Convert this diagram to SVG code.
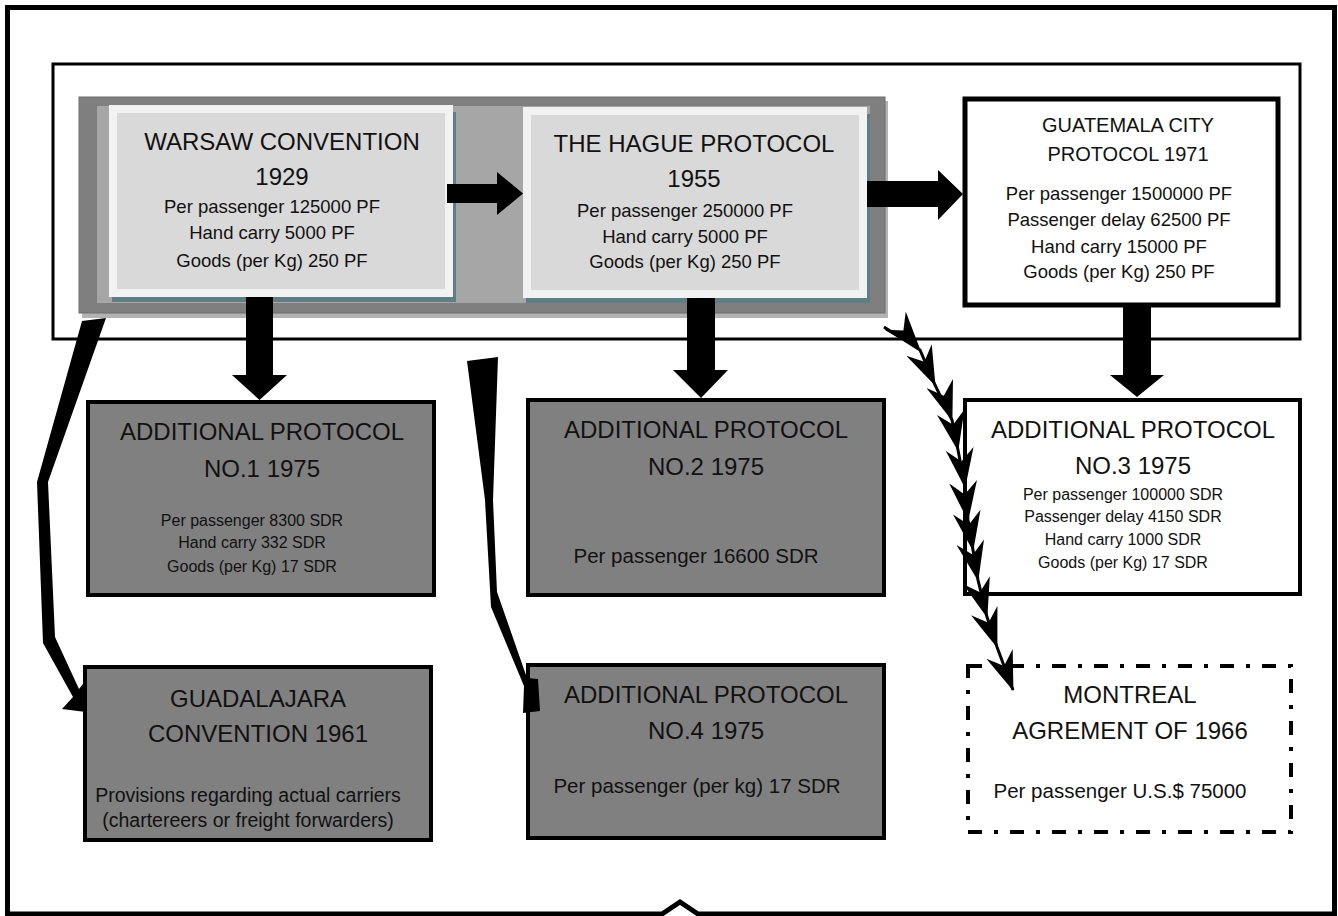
<svg xmlns="http://www.w3.org/2000/svg" width="1338" height="916" viewBox="0 0 1338 916">
<style>
text{font-family:"Liberation Sans",Arial,sans-serif;fill:#111;text-anchor:middle}
.t24{font-size:24px}
.t20{font-size:20px}
.d18{font-size:18.5px}
.d16{font-size:16px}
.d20{font-size:20.5px}
.d19{font-size:19.5px}
.gbox{fill:#808080;stroke:#000;stroke-width:4}
.wbox{fill:#fff;stroke:#000;stroke-width:4}
.lbox{fill:#d9d9d9;stroke:#f2f2f2;stroke-width:8}
.shadow{fill:#5e7d85}
.blk{fill:#000}
</style>
<defs>
<marker id="chev" viewBox="0 0 34 24" markerWidth="40" markerHeight="28" refX="33" refY="12" orient="auto" markerUnits="userSpaceOnUse">
<path d="M0,0 L34,12 L0,24 L11,12 Z" fill="#000"/>
</marker>
</defs>
<rect width="1338" height="916" fill="#fff"/>
<path d="M7.5,7.5 H1334.5 V914 H698 L680,902 L662,914 H7.5 Z" fill="none" stroke="#000" stroke-width="5"/>
<rect x="53" y="64" width="1247" height="275" fill="#fff" stroke="#000" stroke-width="3"/>

<g id="group-bg">
<rect x="82" y="101" width="806" height="217" fill="#b3b3b3"/>
<rect x="79" y="97" width="806" height="216" fill="#7f7f7f" stroke="#6f6f6f" stroke-width="1"/>
<rect x="97" y="106" width="773" height="197" fill="#a6a6a6"/>
</g>

<g id="warsaw">
<rect class="shadow" x="112" y="112" width="344" height="190"/>
<rect class="lbox" x="113" y="109" width="336" height="184"/>
<text class="t24" x="282" y="150">WARSAW CONVENTION</text>
<text class="t24" x="282" y="185">1929</text>
<text class="d18" x="272" y="213">Per passenger 125000 PF</text>
<text class="d18" x="272" y="239">Hand carry 5000 PF</text>
<text class="d18" x="272" y="267">Goods (per Kg) 250 PF</text>
</g>

<g id="hague">
<rect class="shadow" x="526" y="114" width="344" height="189"/>
<rect class="lbox" x="527" y="111" width="336" height="183"/>
<text class="t24" x="694" y="152">THE HAGUE PROTOCOL</text>
<text class="t24" x="694" y="187">1955</text>
<text class="d18" x="685" y="217">Per passenger 250000 PF</text>
<text class="d18" x="685" y="243">Hand carry 5000 PF</text>
<text class="d18" x="685" y="268">Goods (per Kg) 250 PF</text>
</g>

<g id="guatemala">
<rect x="965" y="99" width="313" height="206" fill="#fff" stroke="#000" stroke-width="5"/>
<text class="t20" x="1128" y="132">GUATEMALA CITY</text>
<text class="t20" x="1128" y="161">PROTOCOL 1971</text>
<text class="d18" x="1119" y="200">Per passenger 1500000 PF</text>
<text class="d18" x="1119" y="226">Passenger delay 62500 PF</text>
<text class="d18" x="1119" y="253">Hand carry 15000 PF</text>
<text class="d18" x="1119" y="278">Goods (per Kg) 250 PF</text>
</g>

<g id="ap1">
<rect class="gbox" x="88" y="402" width="346" height="193"/>
<text class="t24" x="262" y="440">ADDITIONAL PROTOCOL</text>
<text class="t24" x="262" y="477">NO.1 1975</text>
<text class="d16" x="252" y="526">Per passenger 8300 SDR</text>
<text class="d16" x="252" y="548">Hand carry 332 SDR</text>
<text class="d16" x="252" y="572">Goods (per Kg) 17 SDR</text>
</g>

<g id="ap2">
<rect class="gbox" x="528" y="400" width="356" height="195"/>
<text class="t24" x="706" y="438">ADDITIONAL PROTOCOL</text>
<text class="t24" x="706" y="475">NO.2 1975</text>
<text class="d20" x="696" y="563">Per passenger 16600 SDR</text>
</g>

<g id="ap3">
<rect class="wbox" x="965" y="400" width="335" height="194"/>
<text class="t24" x="1133" y="438">ADDITIONAL PROTOCOL</text>
<text class="t24" x="1133" y="474">NO.3 1975</text>
<text class="d16" x="1123" y="500">Per passenger 100000 SDR</text>
<text class="d16" x="1123" y="522">Passenger delay 4150 SDR</text>
<text class="d16" x="1123" y="545">Hand carry 1000 SDR</text>
<text class="d16" x="1123" y="568">Goods (per Kg) 17 SDR</text>
</g>

<g id="guadalajara">
<rect class="gbox" x="85" y="667" width="346" height="173"/>
<text class="t24" x="258" y="707">GUADALAJARA</text>
<text class="t24" x="258" y="742">CONVENTION 1961</text>
<text class="d19" x="248" y="802">Provisions regarding actual carriers</text>
<text class="d19" x="248" y="827">(chartereers or freight forwarders)</text>
</g>

<g id="ap4">
<rect class="gbox" x="528" y="665" width="356" height="173"/>
<text class="t24" x="706" y="703">ADDITIONAL PROTOCOL</text>
<text class="t24" x="706" y="739">NO.4 1975</text>
<text class="d20" x="697" y="793">Per passenger (per kg) 17 SDR</text>
</g>

<g id="montreal">
<rect x="968" y="666" width="323" height="166" fill="none" stroke="#000" stroke-width="4" stroke-dasharray="14 12 4 12"/>
<text class="t24" x="1130" y="703">MONTREAL</text>
<text class="t24" x="1130" y="739">AGREMENT OF 1966</text>
<text class="d20" x="1120" y="798">Per passenger U.S.$ 75000</text>
</g>

<g id="connectors">
<path class="blk" d="M447,184 H497 V172 L523,193.5 L497,215 V203 H447 Z"/>
<path class="blk" d="M867,181 H938 V170 L963,194 L938,220 V207 H867 Z"/>
<path class="blk" d="M246,297 H273 V375 H287 L259.5,400 L232,375 H246 Z"/>
<path class="blk" d="M687,298 H715 V370 H728 L701,398 L673,370 H687 Z"/>
<path class="blk" d="M1123,305 H1151 V375 H1164 L1137,397 L1110,375 H1123 Z"/>
<path class="blk" d="M82,321 L106,318 L48,482 L55,637 L79,689 L86,680 L86,712 L62,709 L73,697 L43,643 L37,482 Z"/>
<path class="blk" d="M467,361 L498,357 L493,500 L497,592 L527,678 L538,679 L540,711 L523,713 L524,686 L491,607 L485,500 Z"/>
<polyline points="884,327 920,350 935,385 952,420 958,450 965,487 968,520 973,550 978,580 987,617 997,647 1013,690" fill="none" stroke="#000" stroke-width="3" marker-mid="url(#chev)" marker-end="url(#chev)"/>
</g>
</svg>
